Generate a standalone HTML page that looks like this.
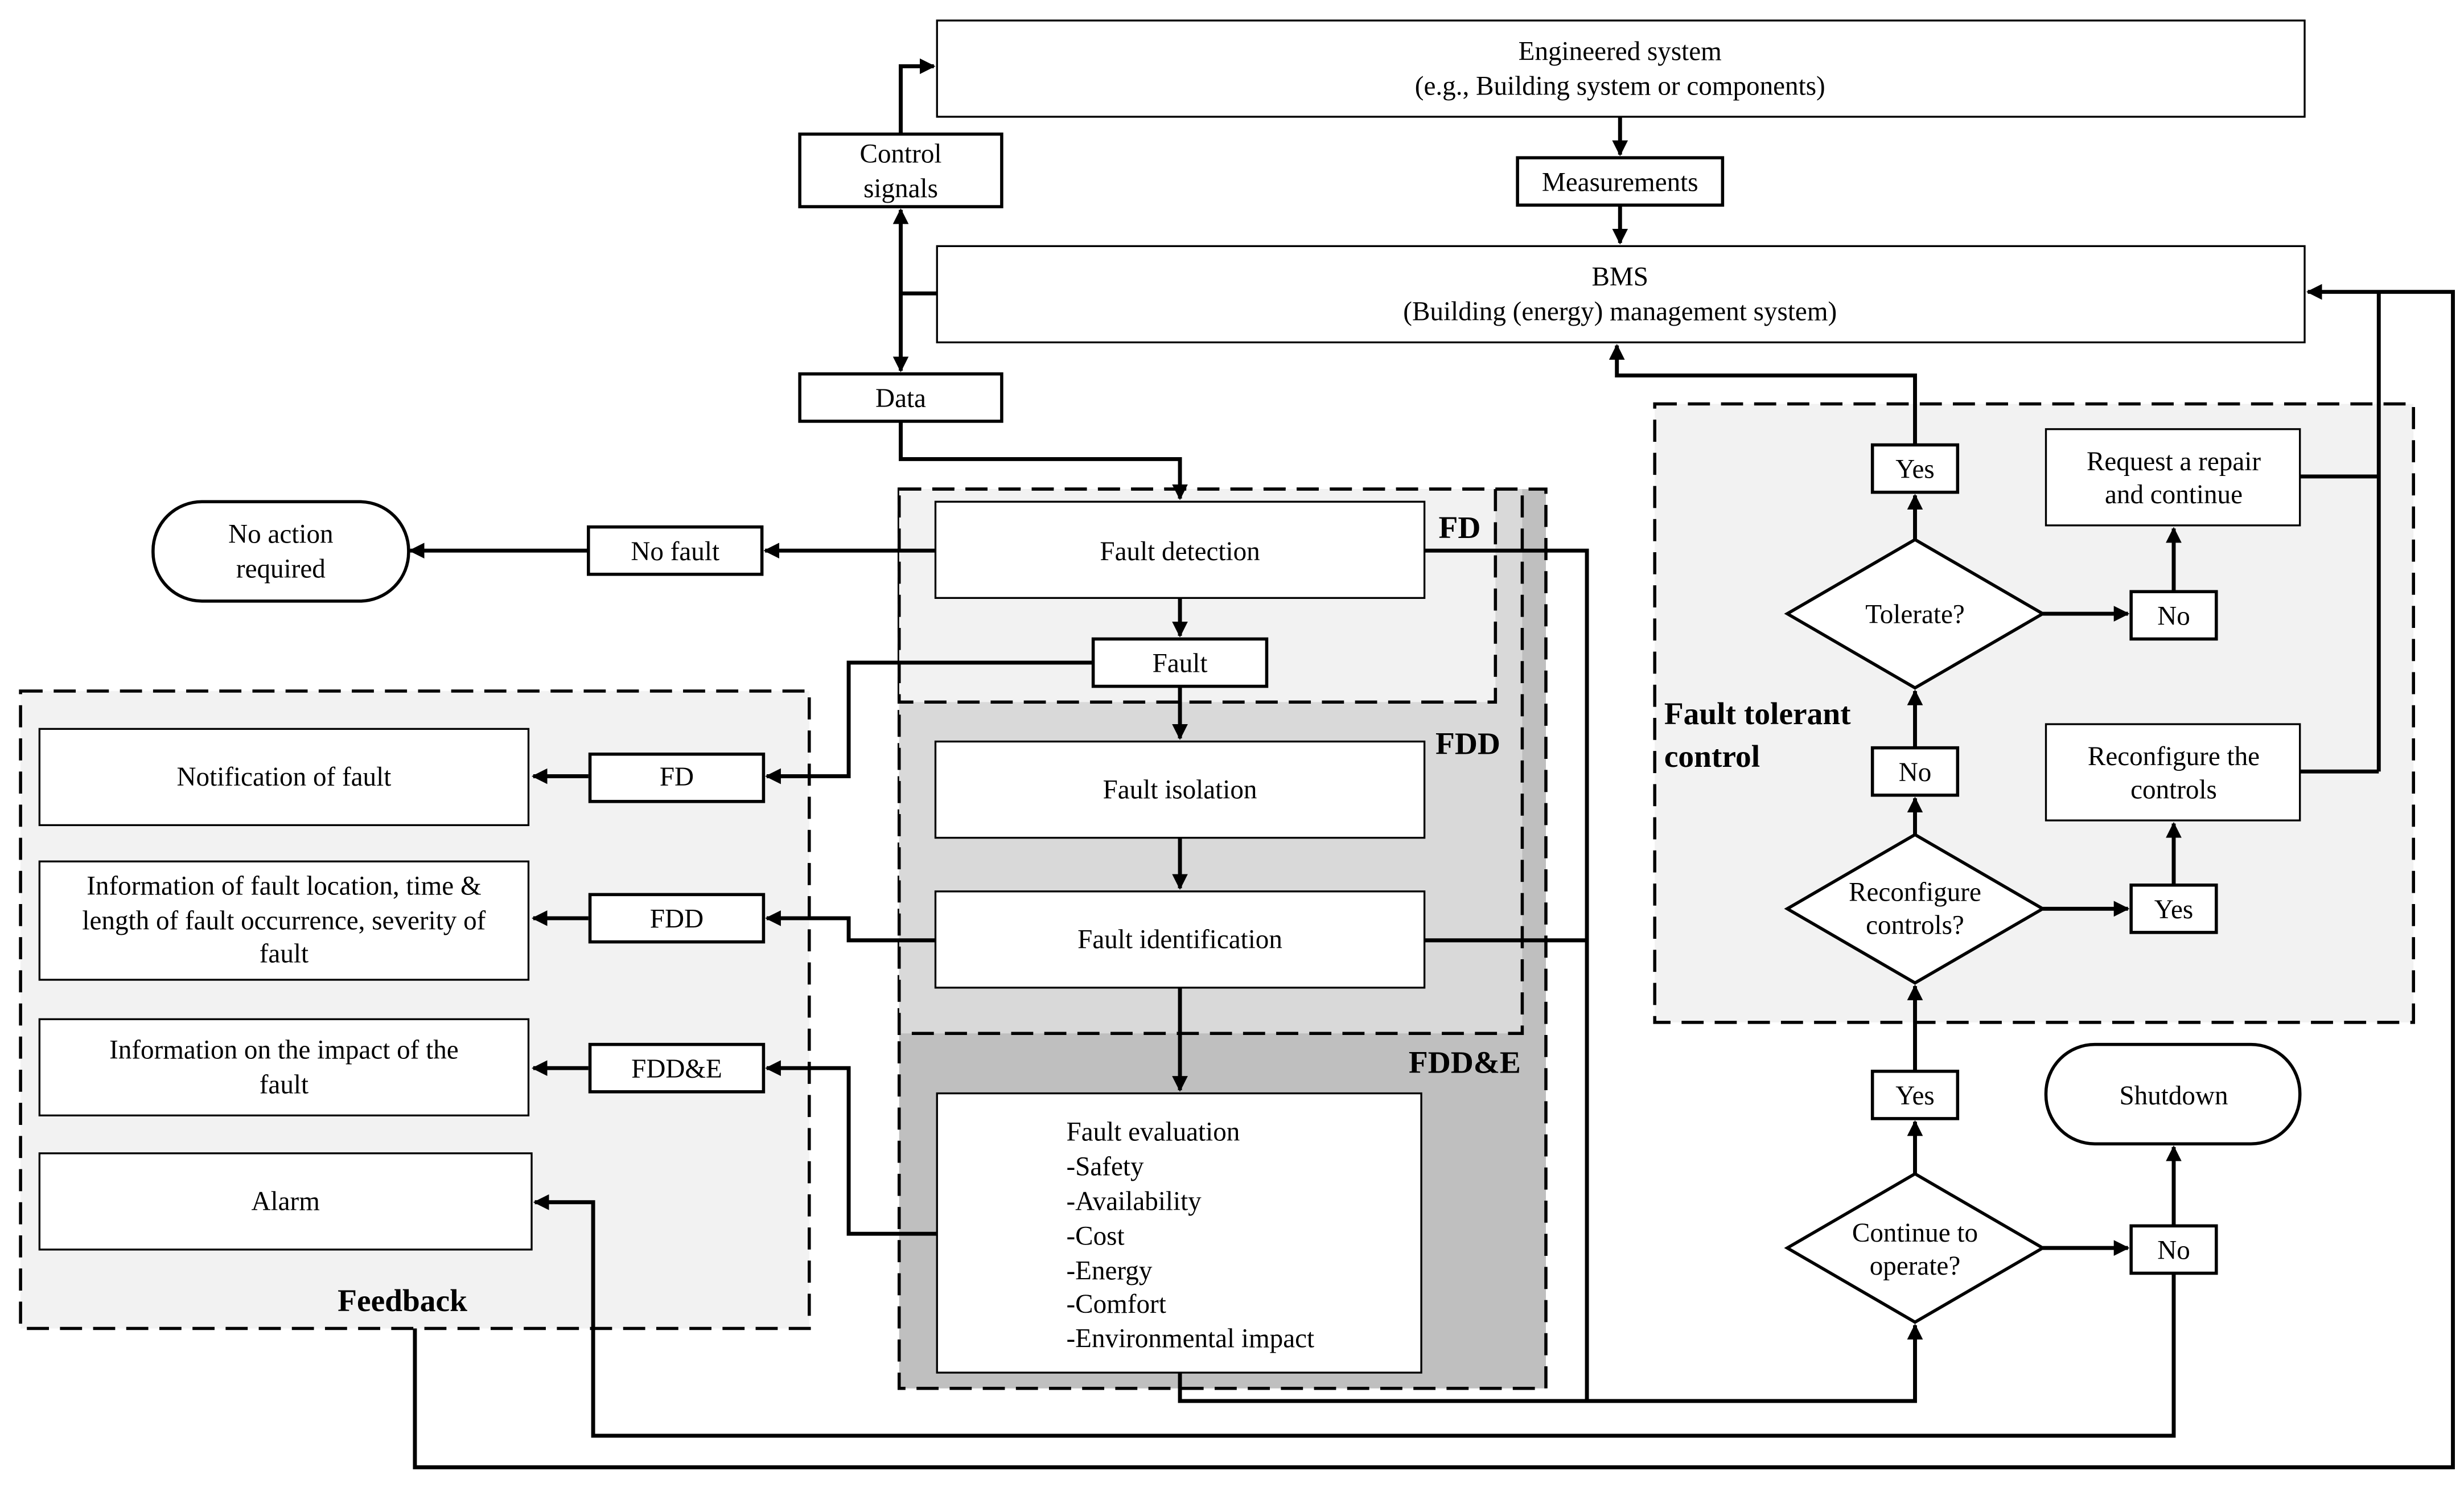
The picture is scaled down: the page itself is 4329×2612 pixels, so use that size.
<!DOCTYPE html>
<html><head><meta charset="utf-8"><style>html,body{margin:0;padding:0;background:#fff}svg{display:block}text{font-family:"Liberation Serif",serif;font-size:17px;fill:#000}.b{font-weight:bold;font-size:20px}</style></head><body>
<svg width="4329" height="2612" viewBox="0 0 1562 942.5" xmlns="http://www.w3.org/2000/svg">
<defs><marker id="a" markerWidth="10" markerHeight="10" refX="9" refY="5" orient="auto" markerUnits="userSpaceOnUse"><path d="M0,0 L10,5 L0,10 z" fill="#000"/></marker>
<marker id="s" markerWidth="10" markerHeight="10" refX="1" refY="5" orient="auto" markerUnits="userSpaceOnUse"><path d="M10,0 L0,5 L10,10 z" fill="#000"/></marker></defs>
<rect width="1562" height="942.5" fill="#fff"/>
<g stroke="#000" stroke-width="2" stroke-dasharray="14,7">
<rect x="570" y="310" width="410" height="570" fill="#bfbfbf"/>
<rect x="570" y="310" width="395" height="345" fill="#d9d9d9"/>
<rect x="570" y="310" width="378" height="135" fill="#f2f2f2"/>
<rect x="13" y="438" width="500" height="404" fill="#f2f2f2"/>
<rect x="1049" y="256" width="481" height="392" fill="#f2f2f2"/>
</g>
<g fill="none" stroke="#000" stroke-width="2.5">
<path d="M571,85 V42 H592" marker-end="url(#a)"/>
<path d="M571,133 V235" marker-start="url(#s)" marker-end="url(#a)"/>
<path d="M571,186 H594"/>
<path d="M571,267 V291 H748 V316" marker-end="url(#a)"/>
<path d="M1027,74 V98" marker-end="url(#a)"/>
<path d="M1027,130 V154" marker-end="url(#a)"/>
<path d="M593,349 H485" marker-end="url(#a)"/>
<path d="M373,349 H260" marker-end="url(#a)"/>
<path d="M748,379 V403" marker-end="url(#a)"/>
<path d="M748,435 V468" marker-end="url(#a)"/>
<path d="M748,531 V563" marker-end="url(#a)"/>
<path d="M748,626 V691" marker-end="url(#a)"/>
<path d="M693,420 H538 V492 H486" marker-end="url(#a)"/>
<path d="M373,492 H338" marker-end="url(#a)"/>
<path d="M593,596 H538 V582 H486" marker-end="url(#a)"/>
<path d="M373,582 H338" marker-end="url(#a)"/>
<path d="M594,782 H538 V677 H486" marker-end="url(#a)"/>
<path d="M373,677 H338" marker-end="url(#a)"/>
<path d="M1378,806 V910 H376 V762 H339" marker-end="url(#a)"/>
<path d="M263,842 V930 H1555 V185 H1463" marker-end="url(#a)"/>
<path d="M1458,302 H1508 M1458,489 H1508 M1508,185 V489"/>
<path d="M903,349 H1006 V888 M903,596 H1006 M748,870 V888 H1214 V840" marker-end="url(#a)"/>
<path d="M1214,282 V238 H1025 V219" marker-end="url(#a)"/>
<path d="M1214,342 V314" marker-end="url(#a)"/>
<path d="M1295,389 H1349" marker-end="url(#a)"/>
<path d="M1378,375 V335" marker-end="url(#a)"/>
<path d="M1214,474 V438" marker-end="url(#a)"/>
<path d="M1214,529 V506" marker-end="url(#a)"/>
<path d="M1295,576 H1349" marker-end="url(#a)"/>
<path d="M1378,561 V522" marker-end="url(#a)"/>
<path d="M1214,679 V625" marker-end="url(#a)"/>
<path d="M1214,744 V711" marker-end="url(#a)"/>
<path d="M1295,791 H1349" marker-end="url(#a)"/>
<path d="M1378,777 V727" marker-end="url(#a)"/>
</g>
<g fill="#fff" stroke="#000" stroke-width="1.2">
<rect x="594" y="13" width="867" height="61"/>
<rect x="594" y="156" width="867" height="61"/>
<rect x="593" y="318" width="310" height="61"/>
<rect x="593" y="470" width="310" height="61"/>
<rect x="593" y="565" width="310" height="61"/>
<rect x="594" y="693" width="307" height="177"/>
<rect x="25" y="462" width="310" height="61"/>
<rect x="25" y="546" width="310" height="75"/>
<rect x="25" y="646" width="310" height="61"/>
<rect x="25" y="731" width="312" height="61"/>
<rect x="1297" y="272" width="161" height="61"/>
<rect x="1297" y="459" width="161" height="61"/>
</g>
<g fill="#fff" stroke="#000" stroke-width="2">
<rect x="962" y="100" width="130" height="30"/>
<rect x="507" y="85" width="128" height="46"/>
<rect x="507" y="237" width="128" height="30"/>
<rect x="693" y="405" width="110" height="30"/>
<rect x="373" y="334" width="110" height="30"/>
<rect x="374" y="478" width="110" height="30"/>
<rect x="374" y="567" width="110" height="30"/>
<rect x="374" y="662" width="110" height="30"/>
<rect x="1187" y="282" width="54" height="30"/>
<rect x="1351" y="375" width="54" height="30"/>
<rect x="1187" y="474" width="54" height="30"/>
<rect x="1351" y="561" width="54" height="30"/>
<rect x="1187" y="679" width="54" height="30"/>
<rect x="1351" y="777" width="54" height="30"/>
<rect x="97" y="318" width="162" height="63" rx="31"/>
<rect x="1297" y="662" width="161" height="63" rx="31"/>
<path d="M1133,389 L1214,342 L1295,389 L1214,436 Z"/>
<path d="M1133,576 L1214,529 L1295,576 L1214,623 Z"/>
<path d="M1133,791 L1214,744 L1295,791 L1214,838 Z"/>
</g>
<g text-anchor="middle">
<text x="1027" y="38">Engineered system</text><text x="1027" y="60">(e.g., Building system or components)</text>
<text x="1027" y="121">Measurements</text>
<text x="1027" y="181">BMS</text><text x="1027" y="203">(Building (energy) management system)</text>
<text x="571" y="103">Control</text><text x="571" y="125">signals</text>
<text x="571" y="258">Data</text>
<text x="748" y="355">Fault detection</text>
<text x="748" y="426">Fault</text>
<text x="748" y="506">Fault isolation</text>
<text x="748" y="601">Fault identification</text>
<text x="428" y="355">No fault</text>
<text x="178" y="344">No action</text><text x="178" y="366">required</text>
<text x="180" y="498">Notification of fault</text>
<text x="180" y="567">Information of fault location, time &amp;</text>
<text x="180" y="589">length of fault occurrence, severity of</text>
<text x="180" y="610">fault</text>
<text x="180" y="671">Information on the impact of the</text><text x="180" y="693">fault</text>
<text x="181" y="767">Alarm</text>
<text x="429" y="498">FD</text><text x="429" y="588">FDD</text><text x="429" y="683">FDD&amp;E</text>
<text x="1214" y="303">Yes</text><text x="1378" y="396">No</text><text x="1214" y="495">No</text>
<text x="1378" y="582">Yes</text><text x="1214" y="700">Yes</text><text x="1378" y="798">No</text>
<text x="1214" y="395">Tolerate?</text>
<text x="1214" y="571">Reconfigure</text><text x="1214" y="592">controls?</text>
<text x="1214" y="787">Continue to</text><text x="1214" y="808">operate?</text>
<text x="1378" y="298">Request a repair</text><text x="1378" y="319">and continue</text>
<text x="1378" y="485">Reconfigure the</text><text x="1378" y="506">controls</text>
<text x="1378" y="700">Shutdown</text>
</g>
<g>
<text x="676" y="723">Fault evaluation</text><text x="676" y="745">-Safety</text><text x="676" y="767">-Availability</text>
<text x="676" y="789">-Cost</text><text x="676" y="811">-Energy</text><text x="676" y="832">-Comfort</text>
<text x="676" y="854">-Environmental impact</text>
<text class="b" x="912" y="341">FD</text>
<text class="b" x="910" y="478">FDD</text>
<text class="b" x="893" y="680">FDD&amp;E</text>
<text class="b" x="214" y="831">Feedback</text>
<text class="b" x="1055" y="459">Fault tolerant</text><text class="b" x="1055" y="486">control</text>
</g>
</svg>
</body></html>
